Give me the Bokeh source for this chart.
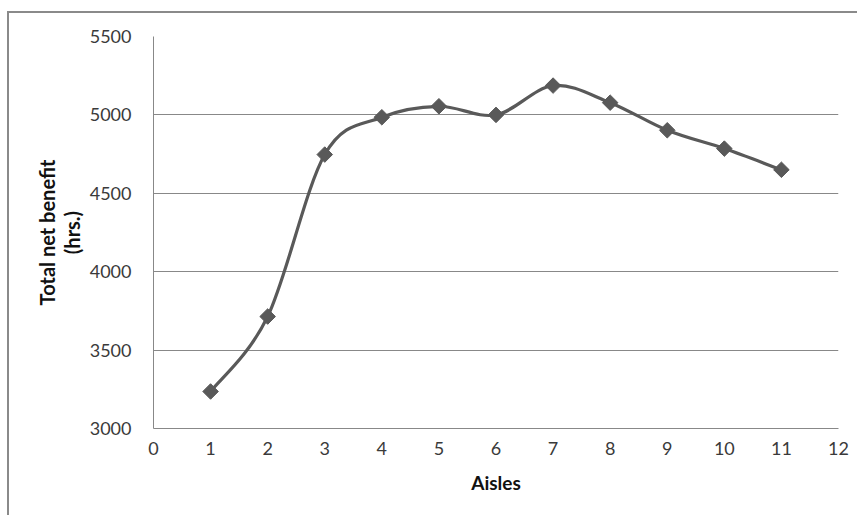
import math
from bokeh.plotting import figure
from bokeh.models import ColumnDataSource, Range1d, FixedTicker
from bokeh.embed import file_html
from bokeh.resources import INLINE

# ---- data ----
aisles = [1, 2, 3, 4, 5, 6, 7, 8, 9, 10, 11]
net_benefit = [3236, 3714, 4747, 4985, 5055, 5000, 5187, 5078, 4902, 4785, 4650]
x_ticks = [0, 1, 2, 3, 4, 5, 6, 7, 8, 9, 10, 11, 12]
y_ticks = [3000, 3500, 4000, 4500, 5000, 5500]

FONT = "Lato"
GRAY_TXT = "#3a3a3a"
LINE_C = "#595959"
GRID_C = "#888888"

# canvas starts at (9, 13) inside the outer chart border
p = figure(width=850, height=504, output_backend="svg", toolbar_location=None,
           x_range=Range1d(0, 12), y_range=Range1d(3000, 5500),
           min_border_left=144, min_border_right=21, min_border_top=23, min_border_bottom=89)
p.margin = (11, 0, 0, 7)
p.styles = {"border-top": "2px solid #8a8a8a", "border-left": "2px solid #8a8a8a"}
p.outline_line_color = None
p.background_fill_color = "white"
p.border_fill_color = "white"

# axes
p.xaxis.ticker = FixedTicker(ticks=x_ticks)
p.yaxis.ticker = FixedTicker(ticks=y_ticks)
for ax in (p.xaxis[0], p.yaxis[0]):
    ax.axis_line_color = GRID_C
    ax.axis_line_width = 1
    ax.major_tick_line_color = None
    ax.minor_tick_line_color = None
    ax.major_label_text_font = FONT
    ax.major_label_text_font_size = "18px"
    ax.major_label_text_color = GRAY_TXT
    ax.axis_label_text_font = FONT
    ax.axis_label_text_font_style = "bold"
    ax.axis_label_text_color = "#111111"
p.xaxis.axis_label_text_font_size = "19px"
p.yaxis.axis_label_text_font_size = "20px"
p.yaxis.axis_label_text_line_height = 1.05
p.xaxis.major_label_standoff = 7
p.yaxis.major_label_standoff = 16
p.xaxis.axis_label = "Aisles"
p.xaxis.axis_label_standoff = 13
p.yaxis.axis_label = "Total net benefit\n(hrs.)"
p.yaxis.axis_label_standoff = 3

p.xgrid.grid_line_color = None
p.ygrid.grid_line_color = GRID_C
p.ygrid.grid_line_width = 1

# smoothed line (Catmull-Rom -> cubic Bezier, like a spreadsheet "smoothed line")
n = len(aisles)
x0, y0, x1, y1, cx0, cy0, cx1, cy1 = [], [], [], [], [], [], [], []
for i in range(n - 1):
    pxm = aisles[i - 1] if i > 0 else aisles[i]
    pym = net_benefit[i - 1] if i > 0 else net_benefit[i]
    pxp = aisles[i + 2] if i + 2 < n else aisles[i + 1]
    pyp = net_benefit[i + 2] if i + 2 < n else net_benefit[i + 1]
    x0.append(aisles[i]); y0.append(net_benefit[i])
    x1.append(aisles[i + 1]); y1.append(net_benefit[i + 1])
    cx0.append(aisles[i] + (aisles[i + 1] - pxm) / 6.0)
    cy0.append(net_benefit[i] + (net_benefit[i + 1] - pym) / 6.0)
    cx1.append(aisles[i + 1] - (pxp - aisles[i]) / 6.0)
    cy1.append(net_benefit[i + 1] - (pyp - net_benefit[i]) / 6.0)

seg = ColumnDataSource(dict(x0=x0, y0=y0, x1=x1, y1=y1, cx0=cx0, cy0=cy0, cx1=cx1, cy1=cy1))
p.bezier(x0="x0", y0="y0", x1="x1", y1="y1", cx0="cx0", cy0="cy0", cx1="cx1", cy1="cy1",
         source=seg, line_color=LINE_C, line_width=3.2)

pts = ColumnDataSource(dict(x=aisles, y=net_benefit))
p.scatter("x", "y", source=pts, marker="square", size=11, angle=math.pi / 4,
          fill_color=LINE_C, line_color=LINE_C, line_width=1)

open("out.html", "w").write(file_html(p, INLINE))
